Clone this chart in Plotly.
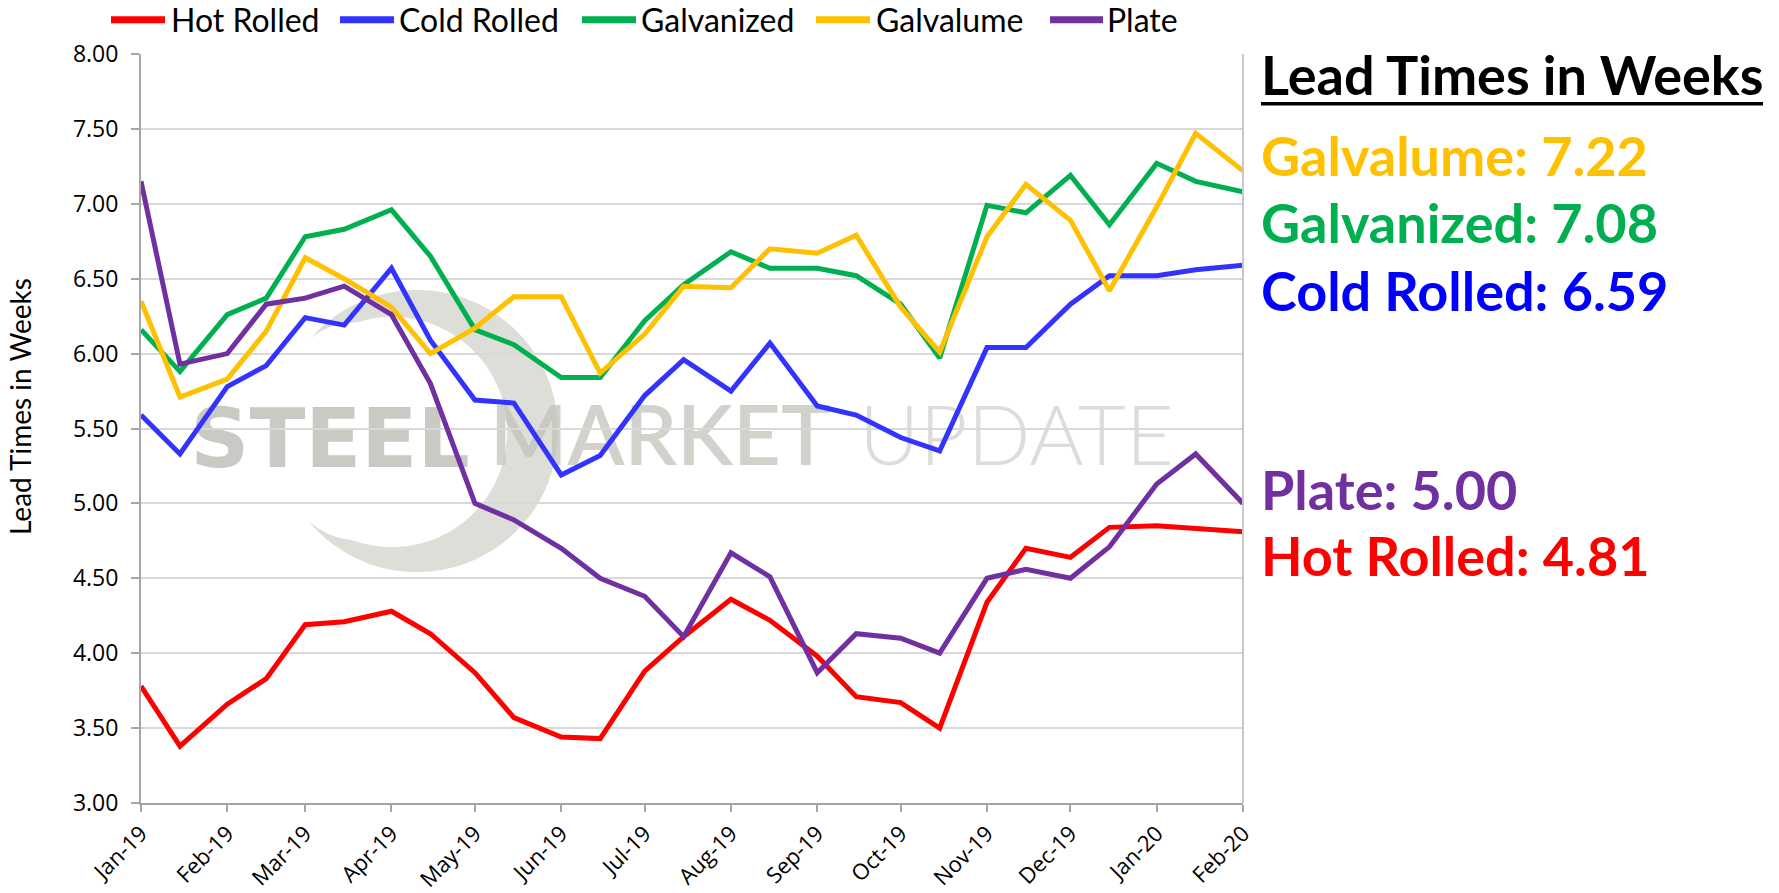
import numpy as np
import plotly.graph_objects as go

# Survey dates: beginning and middle of each month
dates = [
    "2019-01-01", "2019-01-15", "2019-02-01", "2019-02-15", "2019-03-01", "2019-03-15",
    "2019-04-01", "2019-04-15", "2019-05-01", "2019-05-15", "2019-06-01", "2019-06-15",
    "2019-07-01", "2019-07-15", "2019-08-01", "2019-08-15", "2019-09-01", "2019-09-15",
    "2019-10-01", "2019-10-15", "2019-11-01", "2019-11-15", "2019-12-01", "2019-12-15",
    "2020-01-01", "2020-01-15", "2020-02-01",
]

hot_rolled = [3.78, 3.38, 3.66, 3.83, 4.19, 4.21, 4.28, 4.13, 3.87, 3.57, 3.44, 3.43, 3.88, 4.11,
              4.36, 4.22, 3.98, 3.71, 3.67, 3.50, 4.34, 4.70, 4.64, 4.84, 4.85, 4.83, 4.81]
cold_rolled = [5.59, 5.33, 5.78, 5.92, 6.24, 6.19, 6.57, 6.09, 5.69, 5.67, 5.19, 5.32, 5.72, 5.96,
               5.75, 6.07, 5.65, 5.59, 5.44, 5.35, 6.04, 6.04, 6.33, 6.52, 6.52, 6.56, 6.59]
galvanized = [6.16, 5.88, 6.26, 6.37, 6.78, 6.83, 6.96, 6.65, 6.16, 6.06, 5.84, 5.84, 6.22, 6.46,
              6.68, 6.57, 6.57, 6.52, 6.33, 5.97, 6.99, 6.94, 7.19, 6.86, 7.27, 7.15, 7.08]
galvalume = [6.35, 5.71, 5.83, 6.15, 6.64, 6.50, 6.31, 6.00, 6.17, 6.38, 6.38, 5.87, 6.13, 6.45,
             6.44, 6.70, 6.67, 6.79, 6.31, 6.01, 6.78, 7.13, 6.89, 6.42, 6.98, 7.47, 7.22]
plate = [7.15, 5.93, 6.00, 6.33, 6.37, 6.45, 6.26, 5.80, 5.00, 4.89, 4.70, 4.50, 4.38, 4.11,
         4.67, 4.51, 3.87, 4.13, 4.10, 4.00, 4.50, 4.56, 4.50, 4.71, 5.13, 5.33, 5.00]

series_names = ["Hot Rolled", "Cold Rolled", "Galvanized", "Galvalume", "Plate"]
series_values = [hot_rolled, cold_rolled, galvanized, galvalume, plate]
line_colors = ["#FF0000", "#3333FF", "#00B050", "#FFC000", "#7030A0"]
label_colors = {"Hot Rolled": "#FF0000", "Cold Rolled": "#0000FF", "Galvanized": "#00B050",
                "Galvalume": "#FFC000", "Plate": "#7030A0"}

# Side panel: latest reading per product, top to bottom
panel_order = ["Galvalume", "Galvanized", "Cold Rolled", "Plate", "Hot Rolled"]
panel_rows_y = [156, 223, 291, 489, 555]

# Legend row along the top: swatch start/end and text start (pixels)
legend_swatch = [(111, 165), (340, 394), (582, 636), (816, 870), (1050, 1103)]
legend_text_x = [169, 397, 639, 874, 1105]
LEGEND_Y = 20

W, H = 1779, 893
PL, PR, PT, PB = 141, 1243, 54.3, 802.7   # plot area in pixels


def px_x(px):
    return (px - PL) / (PR - PL)


def px_y(py):
    return (PB - py) / (PB - PT)


FONT = "Lato, 'Open Sans', sans-serif"
AXFONT = "'Open Sans', Lato, sans-serif"

fig = go.Figure()
for name, vals, col in zip(series_names, series_values, line_colors):
    fig.add_trace(go.Scatter(x=dates, y=vals, name=name, mode="lines",
                             line=dict(color=col, width=5), showlegend=False))

shapes = []
annotations = []

# legend: coloured swatch + series name
for name, col, (s0, s1), tx in zip(series_names, line_colors, legend_swatch, legend_text_x):
    shapes.append(dict(type="line", xref="paper", yref="paper", x0=px_x(s0), x1=px_x(s1),
                       y0=px_y(LEGEND_Y), y1=px_y(LEGEND_Y), line=dict(color=col, width=7)))
    annotations.append(dict(xref="paper", yref="paper", x=px_x(tx), y=px_y(LEGEND_Y),
                            xanchor="left", yanchor="middle", showarrow=False, text=name,
                            font=dict(family=FONT, size=32, color="black")))

# faint logo watermark: crescent swoosh (outer circle minus offset inner circle)
ox, oy, R = 417, 431, 141
dx, dy, r_in = -25, 1, 115
th = np.radians(np.linspace(-139, 141, 160))
ux, uy = np.cos(th), np.sin(th)
ud = ux * dx + uy * dy
s = ud + np.sqrt(np.maximum(ud ** 2 - (dx ** 2 + dy ** 2) + r_in ** 2, 0))
thick = np.clip(R - s, 0, None)
deg = np.degrees(th)
taper = np.clip(np.minimum((deg - deg[0]) / 20.0, (deg[-1] - deg) / 20.0), 0, 1)
thick = thick * taper
outer = list(zip(ox + R * ux, oy + R * uy))
inner = list(zip(ox + (R - thick) * ux, oy + (R - thick) * uy))[::-1]
path = "M " + " L ".join(f"{px_x(x):.5f},{px_y(y):.5f}" for x, y in outer + inner) + " Z"
shapes.append(dict(type="path", path=path, xref="paper", yref="paper", layer="between",
                   fillcolor="rgba(200,200,192,0.6)", line=dict(width=0)))

# watermark wordmark
for word, x0, x1, fam, size, weight, col in [
        ("STEEL", 185, 475, "'DejaVu Sans', sans-serif", 82, 700, "rgba(184,184,176,0.75)"),
        ("MARKET", 490, 830, FONT, 83, 600, "rgba(192,192,184,0.72)"),
        ("UPDATE", 858, 1175, FONT, 83, 300, "rgba(205,205,200,0.7)")]:
    shapes.append(dict(type="rect", xref="paper", yref="paper", layer="between",
                       x0=px_x(x0), x1=px_x(x1), y0=px_y(500), y1=px_y(364),
                       line=dict(width=0), fillcolor="rgba(0,0,0,0)",
                       label=dict(text=word, textposition="middle center", padding=0,
                                  font=dict(family=fam, size=size, color=col, weight=weight))))

# right-hand frame edge
shapes.append(dict(type="line", xref="paper", yref="paper", x0=1, x1=1, y0=0, y1=1,
                   line=dict(color="#C8C8C8", width=2)))
# underline for the panel heading
shapes.append(dict(type="line", xref="paper", yref="paper", x0=px_x(1261), x1=px_x(1763),
                   y0=px_y(104), y1=px_y(104), line=dict(color="black", width=3.5)))

annotations.append(dict(xref="paper", yref="paper", x=px_x(1259), y=px_y(75), xanchor="left",
                        yanchor="middle", showarrow=False, text="<b>Lead Times in Weeks</b>",
                        font=dict(family=FONT, size=54, color="black")))
latest = dict(zip(series_names, [v[-1] for v in series_values]))
for name, yc in zip(panel_order, panel_rows_y):
    annotations.append(dict(xref="paper", yref="paper", x=px_x(1259), y=px_y(yc),
                            xanchor="left", yanchor="middle", showarrow=False,
                            text=f"<b>{name}: {latest[name]:.2f}</b>",
                            font=dict(family=FONT, size=54, color=label_colors[name])))

# value-axis title
annotations.append(dict(xref="paper", yref="paper", x=px_x(20), y=px_y(407), xanchor="center",
                        yanchor="middle", textangle=-90, showarrow=False,
                        text="Lead Times in Weeks",
                        font=dict(family=FONT, size=28, color="black")))

fig.update_layout(
    width=W, height=H,
    margin=dict(l=PL, r=W - PR, t=PT, b=H - PB),
    plot_bgcolor="white", paper_bgcolor="white",
    font=dict(family=FONT, color="black"),
    shapes=shapes, annotations=annotations,
    showlegend=False,
)

fig.update_xaxes(
    type="date", range=["2019-01-01", "2020-02-01"],
    tick0="2019-01-01", dtick="M1", tickformat="%b-%y", tickangle=-45,
    ticks="outside", ticklen=7, tickcolor="#A6A6A6", tickwidth=2,
    showline=True, linecolor="#A6A6A6", linewidth=2, showgrid=False, zeroline=False,
    tickfont=dict(family=AXFONT, size=22, color="black"), automargin=False,
)
fig.update_yaxes(
    range=[3, 8], dtick=0.5, tick0=3, tickformat=".2f",
    ticks="outside", ticklen=8, tickcolor="#A6A6A6", tickwidth=2,
    showline=True, linecolor="#A6A6A6", linewidth=2,
    showgrid=True, gridcolor="#D9D9D9", gridwidth=2, zeroline=False,
    tickfont=dict(family=AXFONT, size=23, color="black"), automargin=False,
    ticklabelstandoff=8,
)

fig.write_html("out.html")
